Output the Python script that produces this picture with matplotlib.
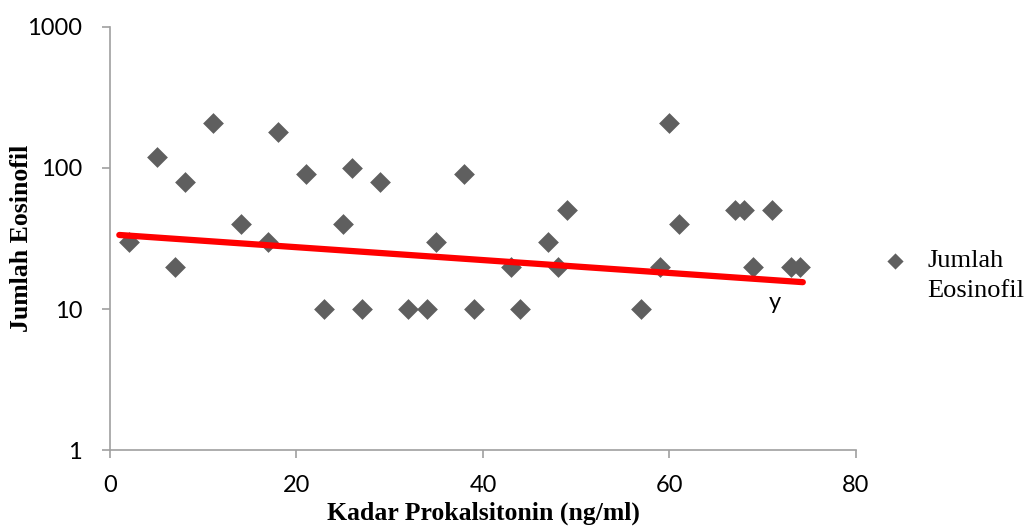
import matplotlib
matplotlib.use("Agg")
import matplotlib.pyplot as plt
import numpy as np

kadar = [2, 5, 7, 8, 11, 14, 17, 18, 21, 23, 25, 26, 27, 29, 32, 34, 35, 38, 39,
         43, 44, 47, 48, 49, 57, 59, 60, 61, 67, 68, 69, 71, 73, 74]
eosinofil = [30, 120, 20, 80, 210, 40, 30, 180, 90, 10, 40, 100, 10, 80, 10, 10, 30, 90, 10,
             20, 10, 30, 20, 50, 10, 20, 210, 40, 50, 50, 20, 50, 20, 20]
trend_x = [1, 74.3]
trend_y = [33.5, 15.5]

fig = plt.figure(figsize=(10.24, 5.28), dpi=100)
ax = fig.add_axes([0.1074, 0.1477, 0.7285, 0.8012])

ax.scatter(kadar, eosinofil, marker='D', s=112, color='#5f5f5f', linewidths=0,
           label='Jumlah\nEosinofil', zorder=3)
ax.plot(trend_x, trend_y, color='#ff0000', lw=4.5, solid_capstyle='round', zorder=4)
ax.text(71.3, 11.2, 'y', fontsize=17, family='Lato', ha='center', va='center')

ax.set_yscale('log')
ax.set_ylim(1, 1000)
ax.set_xlim(0, 80)
ax.set_xticks([0, 20, 40, 60, 80])
ax.set_yticks([1, 10, 100, 1000])
ax.set_yticklabels(['1', '10', '100', '1000'])
ax.minorticks_off()

for s in ['top', 'right']:
    ax.spines[s].set_visible(False)
for s in ['left', 'bottom']:
    ax.spines[s].set_color('#a0a0a0')
    ax.spines[s].set_linewidth(1.2)
ax.tick_params(axis='both', colors='#a0a0a0', length=6, width=1.2, direction='out',
               labelcolor='black', labelsize=17)
for lab in ax.get_xticklabels() + ax.get_yticklabels():
    lab.set_family('Lato')
ax.tick_params(axis='x', pad=12)
ax.tick_params(axis='y', pad=14)

ax.set_xlabel('Kadar Prokalsitonin (ng/ml)', family='Liberation Serif', fontweight='bold',
              fontsize=18.5)
ax.set_ylabel('Jumlah Eosinofil', family='Liberation Serif', fontweight='bold',
              fontsize=18.5)
ax.xaxis.set_label_coords(0.5, -0.123)
ax.yaxis.set_label_coords(-0.103, 0.5)

leg = ax.legend(loc='upper left', bbox_to_anchor=(1.035, 0.472), frameon=False,
                prop={'family': 'Liberation Serif', 'size': 19}, handletextpad=0.72,
                handlelength=1.0, borderaxespad=0, borderpad=0, markerscale=0.78)
for t in leg.get_texts():
    t.set_linespacing(1.45)
h = leg.legend_handles[0]
off = np.asarray(h.get_offsets()).copy()
off[:, 1] += 12
h.set_offsets(off)

fig.savefig('out.png', dpi=100)
